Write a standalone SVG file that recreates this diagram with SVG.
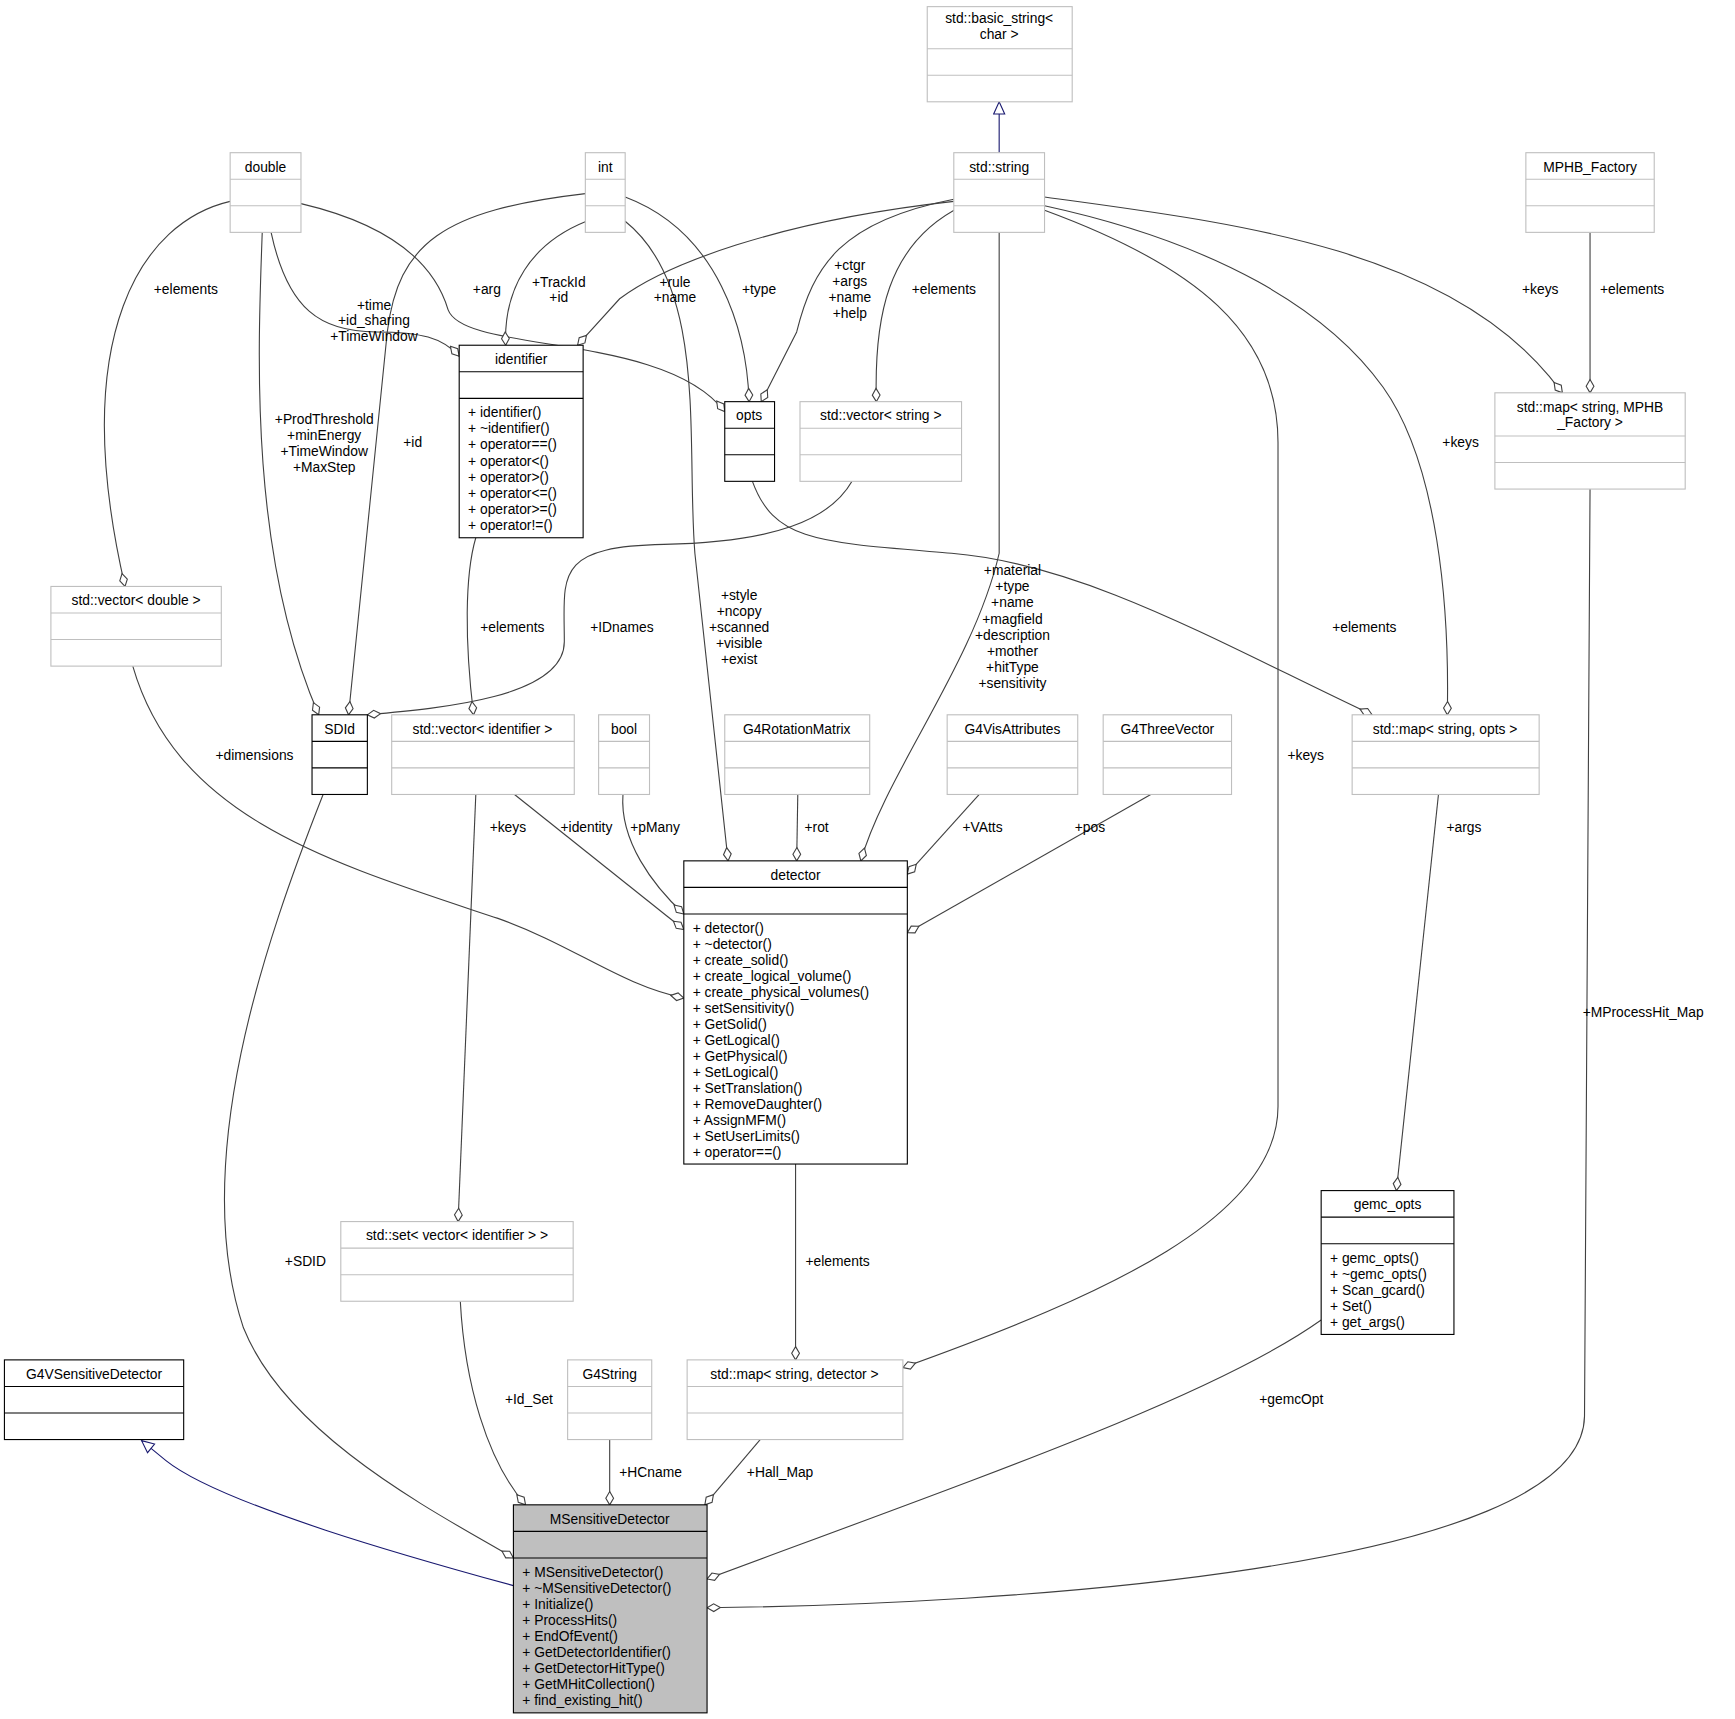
<svg xmlns="http://www.w3.org/2000/svg" width="1735" height="1719" viewBox="0 0 1735 1719">
<style>
text{font-family:"Liberation Sans",Arial,sans-serif;font-size:12.5px;fill:#000}
.t{text-anchor:middle}
.g rect,.g line{fill:#fff;stroke:#bfbfbf;stroke-width:1}
.b rect,.b line{fill:#fff;stroke:#000;stroke-width:1}
.m rect{fill:#bfbfbf}
.e path{fill:none;stroke:#404040;stroke-width:1;marker-end:url(#d)}
.e path.i{stroke:#191970;marker-end:url(#tri)}
.l{text-anchor:middle}
</style>
<defs>
<marker id="d" viewBox="-1 -5 14 10" refX="12" refY="0" markerWidth="14" markerHeight="10" markerUnits="userSpaceOnUse" orient="auto"><path d="M0,0 L6,-3.5 L12,0 L6,3.5 z" fill="#fff" stroke="#404040"/></marker>
<marker id="tri" viewBox="-1 -6 13 12" refX="11" refY="0" markerWidth="13" markerHeight="12" markerUnits="userSpaceOnUse" orient="auto"><path d="M0,-5 L11,0 L0,5 z" fill="#fff" stroke="#191970"/></marker>
</defs>
<rect width="1735" height="1719" fill="#fff"/>
<g transform="scale(1.1065)">
<g class="e" id="edges">
<path class="i" d="M903,138 L903,92"/>
<path class="i" d="M464,1433 C380,1410 200,1360 150,1320 L128,1302"/>
<path d="M208,182 C130,200 60,300 113,530"/>
<path d="M237,210 C233,320 225,500 288,646"/>
<path d="M245,210 C260,280 290,300 340,300 C380,300 400,305 415,322"/>
<path d="M272,184 C340,200 390,230 405,280 C420,320 600,300 655,372"/>
<path d="M529,175 C400,190 360,220 350,300 L315,646"/>
<path d="M530,200 C480,220 455,260 457,312"/>
<path d="M565,200 C640,260 620,400 628,500 L658,778"/>
<path d="M565,178 C650,210 675,300 677,363"/>
<path d="M862,182 C700,200 600,240 560,270 L522,312"/>
<path d="M862,180 C760,200 735,240 720,300 L688,363"/>
<path d="M870,186 C800,220 790,290 792,363"/>
<path d="M903,210 L903,500 C880,600 800,700 778,778"/>
<path d="M944,190 C1080,240 1155,300 1155,400 L1155,1000 C1155,1100 1000,1170 816,1236"/>
<path d="M944,186 C1100,220 1200,280 1250,350 C1300,420 1310,550 1308,646"/>
<path d="M944,178 C1100,200 1300,220 1400,340 L1412,355"/>
<path d="M1437,210 L1437,355"/>
<path d="M770,435 C750,470 700,490 600,492 C500,494 510,520 510,580 C510,630 400,640 332,646"/>
<path d="M430,486 C420,520 420,580 428,646"/>
<path d="M680,435 C700,490 740,490 860,500 C980,510 1100,580 1240,646"/>
<path d="M120,602 C160,740 300,780 450,830 C520,855 560,890 618,902"/>
<path d="M465,718 L618,840"/>
<path d="M430,718 L414,1104"/>
<path d="M563,718 C560,760 590,800 618,826"/>
<path d="M721,718 L720,778"/>
<path d="M885,718 L820,790"/>
<path d="M1040,718 L820,843"/>
<path d="M1300,718 L1262,1076"/>
<path d="M719,1052 L719,1229"/>
<path d="M292,718 C240,850 170,1050 220,1200 C260,1300 400,1370 464,1408"/>
<path d="M416,1176 C420,1250 440,1320 475,1360"/>
<path d="M551,1301 L551,1360"/>
<path d="M687,1301 L637,1360"/>
<path d="M1194,1193 C1100,1260 900,1330 639,1427"/>
<path d="M1437,442 L1432,1280 C1430,1420 900,1450 639,1453"/>
<text class="l" x="168" y="266">+elements</text>
<text class="l" x="293" y="383">+ProdThreshold<tspan x="293" dy="14.5">+minEnergy</tspan><tspan x="293" dy="14.5">+TimeWindow</tspan><tspan x="293" dy="14.5">+MaxStep</tspan></text>
<text class="l" x="338" y="280">+time<tspan x="338" dy="14">+id_sharing</tspan><tspan x="338" dy="14">+TimeWindow</tspan></text>
<text class="l" x="440" y="266">+arg</text>
<text class="l" x="373" y="404">+id</text>
<text class="l" x="505" y="259">+TrackId<tspan x="505" dy="14">+id</tspan></text>
<text class="l" x="668" y="542">+style<tspan x="668" dy="14.5">+ncopy</tspan><tspan x="668" dy="14.5">+scanned</tspan><tspan x="668" dy="14.5">+visible</tspan><tspan x="668" dy="14.5">+exist</tspan></text>
<text class="l" x="686" y="266">+type</text>
<text class="l" x="610" y="259">+rule<tspan x="610" dy="14">+name</tspan></text>
<text class="l" x="768" y="244">+ctgr<tspan x="768" dy="14.5">+args</tspan><tspan x="768" dy="14.5">+name</tspan><tspan x="768" dy="14.5">+help</tspan></text>
<text class="l" x="853" y="266">+elements</text>
<text class="l" x="915" y="520">+material<tspan x="915" dy="14.5">+type</tspan><tspan x="915" dy="14.5">+name</tspan><tspan x="915" dy="14.5">+magfield</tspan><tspan x="915" dy="14.5">+description</tspan><tspan x="915" dy="14.5">+mother</tspan><tspan x="915" dy="14.5">+hitType</tspan><tspan x="915" dy="14.5">+sensitivity</tspan></text>
<text class="l" x="1180" y="687">+keys</text>
<text class="l" x="1320" y="404">+keys</text>
<text class="l" x="1392" y="266">+keys</text>
<text class="l" x="1475" y="266">+elements</text>
<text class="l" x="562" y="571">+IDnames</text>
<text class="l" x="463" y="571">+elements</text>
<text class="l" x="1233" y="571">+elements</text>
<text class="l" x="230" y="687">+dimensions</text>
<text class="l" x="530" y="752">+identity</text>
<text class="l" x="459" y="752">+keys</text>
<text class="l" x="592" y="752">+pMany</text>
<text class="l" x="738" y="752">+rot</text>
<text class="l" x="888" y="752">+VAtts</text>
<text class="l" x="985" y="752">+pos</text>
<text class="l" x="1323" y="752">+args</text>
<text class="l" x="757" y="1144">+elements</text>
<text class="l" x="276" y="1144">+SDID</text>
<text class="l" x="478" y="1269">+Id_Set</text>
<text class="l" x="588" y="1335">+HCname</text>
<text class="l" x="705" y="1335">+Hall_Map</text>
<text class="l" x="1167" y="1269">+gemcOpt</text>
<text class="l" x="1485" y="919">+MProcessHit_Map</text>
</g>
<g id="basic_string" class="g"><rect x="838" y="6" width="131" height="86"/><line x1="838" y1="44" x2="969" y2="44"/><line x1="838" y1="68" x2="969" y2="68"/><text class="t" x="903" y="21">std::basic_string&lt;</text><text class="t" x="903" y="35">char &gt;</text></g>
<g id="string" class="g"><rect x="862" y="138" width="82" height="72"/><line x1="862" y1="162" x2="944" y2="162"/><line x1="862" y1="186" x2="944" y2="186"/><text class="t" x="903" y="155">std::string</text></g>
<g id="double" class="g"><rect x="208" y="138" width="64" height="72"/><line x1="208" y1="162" x2="272" y2="162"/><line x1="208" y1="186" x2="272" y2="186"/><text class="t" x="240" y="155">double</text></g>
<g id="int" class="g"><rect x="529" y="138" width="36" height="72"/><line x1="529" y1="162" x2="565" y2="162"/><line x1="529" y1="186" x2="565" y2="186"/><text class="t" x="547" y="155">int</text></g>
<g id="mphb" class="g"><rect x="1379" y="138" width="116" height="72"/><line x1="1379" y1="162" x2="1495" y2="162"/><line x1="1379" y1="186" x2="1495" y2="186"/><text class="t" x="1437" y="155">MPHB_Factory</text></g>
<g id="identifier" class="b"><rect x="415" y="312" width="112" height="174"/><line x1="415" y1="336" x2="527" y2="336"/><line x1="415" y1="360" x2="527" y2="360"/><text class="t" x="471" y="329">identifier</text>
<text x="423" y="377">+ identifier()<tspan x="423" dy="14.6">+ ~identifier()</tspan><tspan x="423" dy="14.6">+ operator==()</tspan><tspan x="423" dy="14.6">+ operator&lt;()</tspan><tspan x="423" dy="14.6">+ operator&gt;()</tspan><tspan x="423" dy="14.6">+ operator&lt;=()</tspan><tspan x="423" dy="14.6">+ operator&gt;=()</tspan><tspan x="423" dy="14.6">+ operator!=()</tspan></text></g>
<g id="opts" class="b"><rect x="655" y="363" width="45" height="72"/><line x1="655" y1="387" x2="700" y2="387"/><line x1="655" y1="411" x2="700" y2="411"/><text class="t" x="677" y="380">opts</text></g>
<g id="vecstring" class="g"><rect x="723" y="363" width="146" height="72"/><line x1="723" y1="387" x2="869" y2="387"/><line x1="723" y1="411" x2="869" y2="411"/><text class="t" x="796" y="380">std::vector&lt; string &gt;</text></g>
<g id="mapmphb" class="g"><rect x="1351" y="355" width="172" height="87"/><line x1="1351" y1="394" x2="1523" y2="394"/><line x1="1351" y1="418" x2="1523" y2="418"/><text class="t" x="1437" y="372">std::map&lt; string, MPHB</text><text class="t" x="1437" y="386">_Factory &gt;</text></g>
<g id="vecdouble" class="g"><rect x="46" y="530" width="154" height="72"/><line x1="46" y1="554" x2="200" y2="554"/><line x1="46" y1="578" x2="200" y2="578"/><text class="t" x="123" y="547">std::vector&lt; double &gt;</text></g>
<g id="sdid" class="b"><rect x="282" y="646" width="50" height="72"/><line x1="282" y1="670" x2="332" y2="670"/><line x1="282" y1="694" x2="332" y2="694"/><text class="t" x="307" y="663">SDId</text></g>
<g id="vecid" class="g"><rect x="354" y="646" width="165" height="72"/><line x1="354" y1="670" x2="519" y2="670"/><line x1="354" y1="694" x2="519" y2="694"/><text class="t" x="436" y="663">std::vector&lt; identifier &gt;</text></g>
<g id="bool" class="g"><rect x="541" y="646" width="46" height="72"/><line x1="541" y1="670" x2="587" y2="670"/><line x1="541" y1="694" x2="587" y2="694"/><text class="t" x="564" y="663">bool</text></g>
<g id="rotm" class="g"><rect x="655" y="646" width="131" height="72"/><line x1="655" y1="670" x2="786" y2="670"/><line x1="655" y1="694" x2="786" y2="694"/><text class="t" x="720" y="663">G4RotationMatrix</text></g>
<g id="visatt" class="g"><rect x="856" y="646" width="118" height="72"/><line x1="856" y1="670" x2="974" y2="670"/><line x1="856" y1="694" x2="974" y2="694"/><text class="t" x="915" y="663">G4VisAttributes</text></g>
<g id="threevec" class="g"><rect x="997" y="646" width="116" height="72"/><line x1="997" y1="670" x2="1113" y2="670"/><line x1="997" y1="694" x2="1113" y2="694"/><text class="t" x="1055" y="663">G4ThreeVector</text></g>
<g id="mapopts" class="g"><rect x="1222" y="646" width="169" height="72"/><line x1="1222" y1="670" x2="1391" y2="670"/><line x1="1222" y1="694" x2="1391" y2="694"/><text class="t" x="1306" y="663">std::map&lt; string, opts &gt;</text></g>
<g id="detector" class="b"><rect x="618" y="778" width="202" height="274"/><line x1="618" y1="802" x2="820" y2="802"/><line x1="618" y1="826" x2="820" y2="826"/><text class="t" x="719" y="795">detector</text>
<text x="626" y="843">+ detector()<tspan x="626" dy="14.5">+ ~detector()</tspan><tspan x="626" dy="14.5">+ create_solid()</tspan><tspan x="626" dy="14.5">+ create_logical_volume()</tspan><tspan x="626" dy="14.5">+ create_physical_volumes()</tspan><tspan x="626" dy="14.5">+ setSensitivity()</tspan><tspan x="626" dy="14.5">+ GetSolid()</tspan><tspan x="626" dy="14.5">+ GetLogical()</tspan><tspan x="626" dy="14.5">+ GetPhysical()</tspan><tspan x="626" dy="14.5">+ SetLogical()</tspan><tspan x="626" dy="14.5">+ SetTranslation()</tspan><tspan x="626" dy="14.5">+ RemoveDaughter()</tspan><tspan x="626" dy="14.5">+ AssignMFM()</tspan><tspan x="626" dy="14.5">+ SetUserLimits()</tspan><tspan x="626" dy="14.5">+ operator==()</tspan></text></g>
<g id="setvec" class="g"><rect x="308" y="1104" width="210" height="72"/><line x1="308" y1="1128" x2="518" y2="1128"/><line x1="308" y1="1152" x2="518" y2="1152"/><text class="t" x="413" y="1121">std::set&lt; vector&lt; identifier &gt; &gt;</text></g>
<g id="gemcopts" class="b"><rect x="1194" y="1076" width="120" height="130"/><line x1="1194" y1="1100" x2="1314" y2="1100"/><line x1="1194" y1="1124" x2="1314" y2="1124"/><text class="t" x="1254" y="1093">gemc_opts</text>
<text x="1202" y="1141">+ gemc_opts()<tspan x="1202" dy="14.5">+ ~gemc_opts()</tspan><tspan x="1202" dy="14.5">+ Scan_gcard()</tspan><tspan x="1202" dy="14.5">+ Set()</tspan><tspan x="1202" dy="14.5">+ get_args()</tspan></text></g>
<g id="g4vsd" class="b"><rect x="4" y="1229" width="162" height="72"/><line x1="4" y1="1253" x2="166" y2="1253"/><line x1="4" y1="1277" x2="166" y2="1277"/><text class="t" x="85" y="1246">G4VSensitiveDetector</text></g>
<g id="g4string" class="g"><rect x="513" y="1229" width="76" height="72"/><line x1="513" y1="1253" x2="589" y2="1253"/><line x1="513" y1="1277" x2="589" y2="1277"/><text class="t" x="551" y="1246">G4String</text></g>
<g id="mapdet" class="g"><rect x="621" y="1229" width="195" height="72"/><line x1="621" y1="1253" x2="816" y2="1253"/><line x1="621" y1="1277" x2="816" y2="1277"/><text class="t" x="718" y="1246">std::map&lt; string, detector &gt;</text></g>
<g id="msd" class="b m"><rect x="464" y="1360" width="175" height="188"/><line x1="464" y1="1384" x2="639" y2="1384"/><line x1="464" y1="1408" x2="639" y2="1408"/><text class="t" x="551" y="1377">MSensitiveDetector</text>
<text x="472" y="1425">+ MSensitiveDetector()<tspan x="472" dy="14.5">+ ~MSensitiveDetector()</tspan><tspan x="472" dy="14.5">+ Initialize()</tspan><tspan x="472" dy="14.5">+ ProcessHits()</tspan><tspan x="472" dy="14.5">+ EndOfEvent()</tspan><tspan x="472" dy="14.5">+ GetDetectorIdentifier()</tspan><tspan x="472" dy="14.5">+ GetDetectorHitType()</tspan><tspan x="472" dy="14.5">+ GetMHitCollection()</tspan><tspan x="472" dy="14.5">+ find_existing_hit()</tspan></text></g>
</g>
</svg>
